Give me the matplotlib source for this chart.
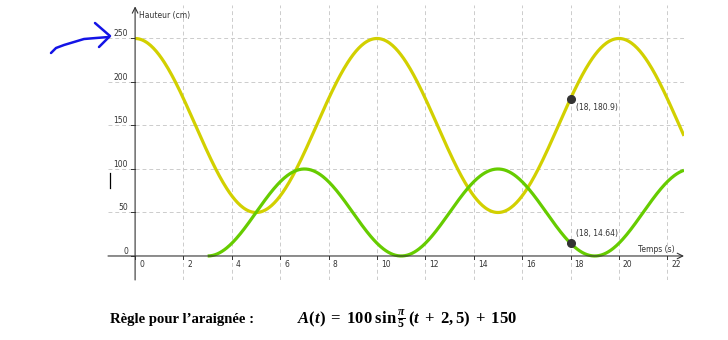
import numpy as np
import matplotlib
matplotlib.use("Agg")
import matplotlib.pyplot as plt
from matplotlib.transforms import offset_copy

# values
x_ticks = [0, 2, 4, 6, 8, 10, 12, 14, 16, 18, 20, 22]
y_ticks = [0, 50, 100, 150, 200, 250]

# spider curve (yellow): A(t) = 100 sin(pi/5 (t + 2,5)) + 150
yel_amp, yel_mid, yel_period, yel_shift = 100, 150, 10, 2.5
# second curve (green): starts at t=3, min 0, max 100, period 8
grn_amp, grn_mid, grn_period, grn_start = 50, 50, 8, 3

pts_t = [18, 18]
pts_h = [180.9, 14.64]
pts_lbl = ["(18, 180.9)", "(18, 14.64)"]

# hand-drawn blue arrow (figure pixels)
arrow_body = [(51, 53), (56, 48), (64, 45), (74, 42), (84, 39), (96, 38), (109, 37)]
arrow_head = [(95, 23), (110, 36), (99, 47)]

YELLOW = "#d2d000"
GREEN = "#66cc00"
GREY = "#333333"

plt.rcParams["font.family"] = ["DejaVu Sans"]
plt.rcParams["mathtext.fontset"] = "custom"
plt.rcParams["mathtext.rm"] = "Liberation Serif:bold"
plt.rcParams["mathtext.it"] = "Liberation Serif:italic:bold"
plt.rcParams["mathtext.bf"] = "Liberation Serif:bold"

fig = plt.figure(figsize=(7.28, 3.40), dpi=100)
ax = fig.add_axes([108 / 728, 1 - 280 / 340, 576 / 728, 275 / 340])
ax.set_xlim(-1.12, 22.69)
ax.set_ylim(-27.6, 288.5)
ax.axis("off")

# grid
for xt in x_ticks[1:]:
    ax.axvline(xt, color="#cccccc", lw=0.7, ls=(0, (4, 3)), zorder=0)
for yt in y_ticks[1:]:
    ax.axhline(yt, color="#cccccc", lw=0.7, ls=(0, (4, 3)), zorder=0)

# axes with arrows
ax.annotate("", xy=(1.0, 0), xycoords=("axes fraction", "data"),
            xytext=(0.0, 0), textcoords=("axes fraction", "data"),
            arrowprops=dict(arrowstyle="->", lw=0.8, color=GREY, shrinkA=0, shrinkB=0))
ax.annotate("", xy=(0, 0.995), xycoords=("data", "axes fraction"),
            xytext=(0, 0.0), textcoords=("data", "axes fraction"),
            arrowprops=dict(arrowstyle="->", lw=0.8, color=GREY, shrinkA=0, shrinkB=0))

# tick marks and labels
for xt in x_ticks:
    ax.plot([xt, xt], [0, -4], color=GREY, lw=0.7)
    ax.text(xt, 0, str(xt), fontsize=5.5, color=GREY, ha="left", va="top",
            transform=offset_copy(ax.transData, fig, x=4, y=-4, units="dots"))
for yt in y_ticks:
    ax.plot([-0.15, 0], [yt, yt], color=GREY, lw=0.7)
    ax.text(0, yt, str(yt), fontsize=5.5, color=GREY, ha="right", va="bottom",
            transform=offset_copy(ax.transData, fig, x=-7, y=0, units="dots"))

ax.text(0, 1, "Hauteur (cm)", fontsize=5.5, color=GREY, ha="left", va="top",
        transform=offset_copy(ax.get_xaxis_transform(), fig, x=4, y=-6, units="dots"))
ax.text(22.3, 0, "Temps (s)", fontsize=5.5, color=GREY, ha="right", va="bottom",
        transform=offset_copy(ax.transData, fig, x=0, y=2, units="dots"))

# curves
t = np.linspace(0, 22.69, 600)
ax.plot(t, yel_amp * np.sin(2 * np.pi / yel_period * (t + yel_shift)) + yel_mid,
        color=YELLOW, lw=2.3, solid_capstyle="butt")
tg = np.linspace(grn_start, 22.69, 600)
ax.plot(tg, grn_mid - grn_amp * np.cos(2 * np.pi / grn_period * (tg - grn_start)),
        color=GREEN, lw=2.3, solid_capstyle="butt")

ax.plot(pts_t, pts_h, "o", color=GREY, ms=5.5, zorder=5)
ax.text(pts_t[0], pts_h[0], pts_lbl[0], fontsize=5.5, color=GREY, ha="left", va="center",
        transform=offset_copy(ax.transData, fig, x=5, y=-9, units="dots"))
ax.text(pts_t[1], pts_h[1], pts_lbl[1], fontsize=5.5, color=GREY, ha="left", va="center",
        transform=offset_copy(ax.transData, fig, x=5, y=10, units="dots"))

# hand-drawn blue arrow and cursor mark (figure pixels)
def fig_xy(pts):
    return [p[0] / 728 for p in pts], [1 - p[1] / 340 for p in pts]

bx, by = fig_xy(arrow_body)
fig.add_artist(plt.Line2D(bx, by, color="#1414e6", lw=1.8, solid_capstyle="round"))
hx, hy = fig_xy(arrow_head)
fig.add_artist(plt.Line2D(hx, hy, color="#1414e6", lw=1.8, solid_capstyle="round"))
cx, cy = fig_xy([(110, 173), (110, 188)])
fig.add_artist(plt.Line2D(cx, cy, color="black", lw=0.9))

# rule text
fig.text(110 / 728, 1 - 319 / 340, "Règle pour l’araignée :", fontsize=10.6,
         family="Liberation Serif", weight="bold", ha="left", va="center")
fig.text(297 / 728, 1 - 319 / 340,
         r"$A(t)\;=\;100\;\mathrm{sin}\,\frac{\pi}{5}\,(t\;+\;2,5)\;+\;150$",
         fontsize=12, ha="left", va="center")

fig.savefig("out.png", dpi=100)
